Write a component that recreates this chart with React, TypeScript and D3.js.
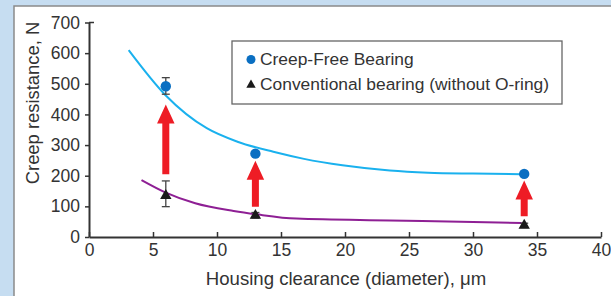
import React, { useRef, useEffect } from "react";
import * as d3 from "d3";

// Curvas ajustadas
const fitFreeX = [3.1, 6, 9.2, 11.6, 14.4, 16.8, 19.8, 23.5, 26.5, 30, 33.8];
const fitFreeY = [610, 462, 355, 311, 278, 255, 234, 217, 210, 207, 205];
const fitConvX = [4.1, 6, 8.3, 11.3, 13.1, 16.2, 23.5, 30, 33.8];
const fitConvY = [186, 145, 110, 85, 74, 60, 54, 49, 46];

// Puntos medidos
const clearance = [6, 13, 34];
const freeValues = [492, 272, 206];
const freeLow = [466, null, null];
const freeHigh = [520, null, null];
const convValues = [135, 70, 38];
const convLow = [99, 62, 31];
const convHigh = [183, 80, 45];

// Flechas de mejora
const arrowFrom = [205, 99, 68];
const arrowTo = [432, 249, 184];

const xTicks = [0, 5, 10, 15, 20, 25, 30, 35, 40];
const yTicks = [0, 100, 200, 300, 400, 500, 600, 700];

const legendLabels = ["Creep-Free Bearing", "Conventional bearing (without O-ring)"];

const FONT = "'Liberation Sans', Arial, Helvetica, sans-serif";
const TEXT = "#333";

export const CreepChart = ({ width = 611, height = 296 }) => {
  const d3Container = useRef<SVGSVGElement>(null);

  useEffect(() => {
    const container = d3Container.current;
    if (!container) return;
    d3.select(container).selectChildren().remove();

    const svg = d3.select(container).style("font-family", FONT);

    // Fondo y panel
    svg.append("rect").attr("width", width).attr("height", height).attr("fill", "#c6ddf1");
    svg
      .append("rect")
      .attr("x", 14)
      .attr("y", 6)
      .attr("width", width)
      .attr("height", height)
      .attr("fill", "white")
      .attr("stroke", "#8a8a8a")
      .attr("stroke-width", 1.5);

    const x = d3.scaleLinear().domain([0, 40]).range([89, 601]);
    const y = d3.scaleLinear().domain([0, 700]).range([237, 22.5]);

    // Eje X
    const gx = svg
      .append("g")
      .attr("transform", `translate(0, ${y(0)})`)
      .call(d3.axisBottom(x).tickValues(xTicks).tickSizeInner(-5).tickSizeOuter(0).tickPadding(7));
    gx.select(".domain").attr("stroke", "#333").attr("stroke-width", 2);
    gx.selectAll(".tick line").attr("stroke", "#333").attr("stroke-width", 1.5);
    gx.selectAll("text").attr("fill", TEXT).style("font-size", "17.5px").style("font-family", FONT);

    // Eje Y
    const gy = svg
      .append("g")
      .attr("transform", `translate(${x(0)}, 0)`)
      .call(d3.axisLeft(y).tickValues(yTicks).tickSizeInner(4).tickSizeOuter(0).tickPadding(5));
    gy.select(".domain").attr("stroke", "#333").attr("stroke-width", 2);
    gy.selectAll(".tick line").attr("stroke", "#333").attr("stroke-width", 1.5);
    gy.selectAll("text").attr("fill", TEXT).style("font-size", "17.5px").style("font-family", FONT);
    gy.append("line")
      .attr("x1", 0)
      .attr("x2", 5)
      .attr("y1", y(700))
      .attr("y2", y(700))
      .attr("stroke", "#333")
      .attr("stroke-width", 1.5);

    // Rótulos de ejes
    svg
      .append("text")
      .attr("x", 346)
      .attr("y", 285)
      .attr("text-anchor", "middle")
      .attr("fill", TEXT)
      .style("font-size", "18.6px")
      .text("Housing clearance (diameter), μm");
    svg
      .append("text")
      .attr("transform", "translate(39, 103) rotate(-90)")
      .attr("text-anchor", "middle")
      .attr("fill", TEXT)
      .style("font-size", "18.4px")
      .text("Creep resistance, N");

    // Curvas
    const line = d3
      .line<[number, number]>()
      .x((d) => x(d[0]))
      .y((d) => y(d[1]))
      .curve(d3.curveMonotoneX);
    svg
      .append("path")
      .attr("d", line(fitFreeX.map((v, i) => [v, fitFreeY[i]])))
      .attr("fill", "none")
      .attr("stroke", "#1ab1ee")
      .attr("stroke-width", 2);
    svg
      .append("path")
      .attr("d", line(fitConvX.map((v, i) => [v, fitConvY[i]])))
      .attr("fill", "none")
      .attr("stroke", "#8e1f94")
      .attr("stroke-width", 2);

    // Flechas
    const arrows = svg.append("g").attr("fill", "#ee1c25");
    clearance.forEach((c, i) => {
      const cx = x(c);
      const y0 = y(arrowFrom[i]);
      const y1 = y(arrowTo[i]);
      const headH = 19;
      const headW = 17.5;
      const shaftW = 7;
      arrows
        .append("path")
        .attr(
          "d",
          `M${cx - shaftW / 2},${y0} L${cx - shaftW / 2},${y1 + headH} L${cx - headW / 2},${y1 + headH} ` +
            `L${cx},${y1} L${cx + headW / 2},${y1 + headH} L${cx + shaftW / 2},${y1 + headH} L${cx + shaftW / 2},${y0} Z`
        );
    });

    // Barras de error
    const errBar = (g, cx, lo, hi) => {
      if (lo === null || hi === null) return;
      const e = g.append("g").attr("stroke", "#444").attr("stroke-width", 1.3);
      e.append("line").attr("x1", cx).attr("x2", cx).attr("y1", y(lo)).attr("y2", y(hi));
      [lo, hi].forEach((v) =>
        e.append("line").attr("x1", cx - 4).attr("x2", cx + 4).attr("y1", y(v)).attr("y2", y(v))
      );
    };
    const errors = svg.append("g");
    clearance.forEach((c, i) => {
      errBar(errors, x(c), freeLow[i], freeHigh[i]);
      errBar(errors, x(c), convLow[i], convHigh[i]);
    });

    // Puntos
    svg
      .append("g")
      .selectAll("circle")
      .data(clearance)
      .join("circle")
      .attr("cx", (d) => x(d))
      .attr("cy", (_d, i) => y(freeValues[i]))
      .attr("r", 5.2)
      .attr("fill", "#0a6fc2");
    const tri = d3.symbol(d3.symbolTriangle, 56);
    svg
      .append("g")
      .selectAll("path")
      .data(clearance)
      .join("path")
      .attr("transform", (d, i) => `translate(${x(d)}, ${y(convValues[i])})`)
      .attr("d", tri())
      .attr("fill", "#1a1a1a");

    // Leyenda
    const legend = svg.append("g");
    legend
      .append("rect")
      .attr("x", 232)
      .attr("y", 41)
      .attr("width", 330)
      .attr("height", 63)
      .attr("fill", "white")
      .attr("stroke", "#666")
      .attr("stroke-width", 1.3);
    legend.append("circle").attr("cx", 251).attr("cy", 59.5).attr("r", 4.5).attr("fill", "#0a6fc2");
    legend
      .append("path")
      .attr("transform", "translate(251, 85)")
      .attr("d", d3.symbol(d3.symbolTriangle, 38)())
      .attr("fill", "#1a1a1a");
    legendLabels.forEach((t, i) => {
      legend
        .append("text")
        .attr("x", 260)
        .attr("y", 65 + i * 25)
        .attr("fill", TEXT)
        .style("font-size", "17.4px")
        .text(t);
    });
  }, [width, height]);

  return <svg width={width} height={height} ref={d3Container} />;
};

export default function App() {
  return (
    <div style={{ position: "fixed", left: 0, top: 0 }}>
      <CreepChart />
    </div>
  );
}
